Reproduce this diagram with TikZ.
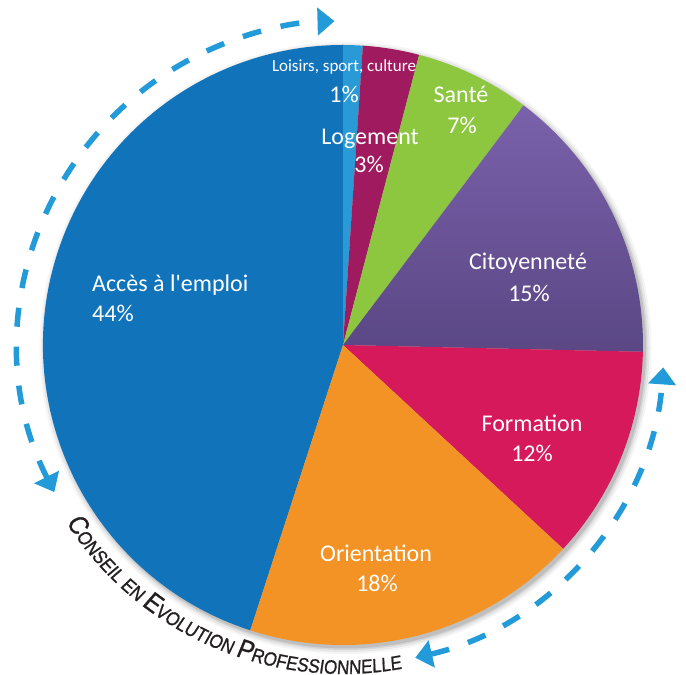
\documentclass[tikz,border=0pt]{standalone}
\usepackage{fontspec}
\setmainfont{Carlito}[Ligatures=TeXOff]
\newfontfamily\condfont{Liberation Sans}[FakeStretch=0.87,FakeSlant=0.08,FakeBold=1]
\newcommand\cenbig{\condfont\fontsize{27}{27}\selectfont}
\newcommand\censmall{\condfont\fontsize{19.5}{19.5}\selectfont}
\usetikzlibrary{arrows.meta,decorations.text}
\definecolor{acces}{HTML}{1174BB}
\definecolor{loisirs}{HTML}{2A9AD6}
\definecolor{logement}{HTML}{A01A5F}
\definecolor{sante}{HTML}{8DC63F}
\definecolor{citoA}{HTML}{7A61AB}
\definecolor{citoB}{HTML}{5A4784}
\definecolor{formation}{HTML}{D6195B}
\definecolor{orientation}{HTML}{F39325}
\definecolor{arrowblue}{HTML}{229BD8}
\definecolor{titlegray}{HTML}{231F20}
\begin{document}
\begin{tikzpicture}[x=1pt,y=1pt,
  lbl/.style={text=white, inner sep=0pt, anchor=base, font=\fontsize{24}{28}\selectfont},
  lbllft/.style={lbl, anchor=base west},
  smalllbl/.style={lbl, font=\fontsize{17}{20}\selectfont},
  cycle arrow/.style={arrowblue, line width=5.5pt, dash pattern=on 19pt off 20pt,
    {Triangle[length=17pt,width=27pt]}-{Triangle[length=17pt,width=27pt]}}
]
\useasboundingbox (0,0) rectangle (686,675);
\coordinate (C) at (343,330);
% soft shadow
\foreach \r/\o in {306/0.04,304/0.06,302/0.08,300.5/0.10}{
  \fill[black, opacity=\o] ([shift={(2.5,-3)}]C) circle[radius=\r];
}
% slices
\fill[acces] (C) -- ++(-108:300) arc[start angle=-108, end angle=-270, radius=300] -- cycle;
\fill[loisirs] (C) -- ++(90:300) arc[start angle=90, end angle=86.2, radius=300] -- cycle;
\fill[logement] (C) -- ++(86.2:300) arc[start angle=86.2, end angle=75.3, radius=300] -- cycle;
\fill[sante] (C) -- ++(75.3:300) arc[start angle=75.3, end angle=53, radius=300] -- cycle;
\shade[top color=citoA, bottom color=citoB] (C) -- ++(53:300) arc[start angle=53, end angle=-1.3, radius=300] -- cycle;
\fill[formation] (C) -- ++(-1.3:300) arc[start angle=-1.3, end angle=-42.8, radius=300] -- cycle;
\fill[orientation] (C) -- ++(-42.8:300) arc[start angle=-42.8, end angle=-108, radius=300] -- cycle;
% labels
\node[smalllbl] (loisirsT) at (344,603) {Loisirs, sport, culture};
\node[lbl] (loisirsP) at (344,572) {1\%};
\node[lbl] (logementT) at (370,530) {Logement};
\node[lbl] (logementP) at (369,502) {3\%};
\node[lbl] (santeT) at (461,572) {Santé};
\node[lbl] (santeP) at (462,541) {7\%};
\node[lbl] (citoT) at (528,405) {Citoyenneté};
\node[lbl] (citoP) at (529,373) {15\%};
\node[lbl] (formT) at (532,243) {Formation};
\node[lbl] (formP) at (532,213) {12\%};
\node[lbl] (orientT) at (376,113) {Orientation};
\node[lbl] (orientP) at (377,83) {18\%};
\node[lbllft] (accesT) at (92,383) {Accès à l'emploi};
\node[lbllft] (accesP) at (92,353) {44\%};
% cycle arrows
\draw[cycle arrow] (C) ++(207:324) arc[start angle=207, end angle=91.5, radius=324];
\draw[cycle arrow] (C) ++(-77:321) arc[start angle=-77, end angle=-4, radius=321];
% curved title
\path[decorate, decoration={text along path, text align=center, text color=titlegray,
  text={|\cenbig|C|\censmall|ONSEIL EN |\cenbig|E|\censmall|VOLUTION |\cenbig|P|\censmall|ROFESSIONNELLE}}]
  (C) ++(212:329) arc[start angle=212, end angle=281, radius=329];
\end{tikzpicture}
\end{document}
